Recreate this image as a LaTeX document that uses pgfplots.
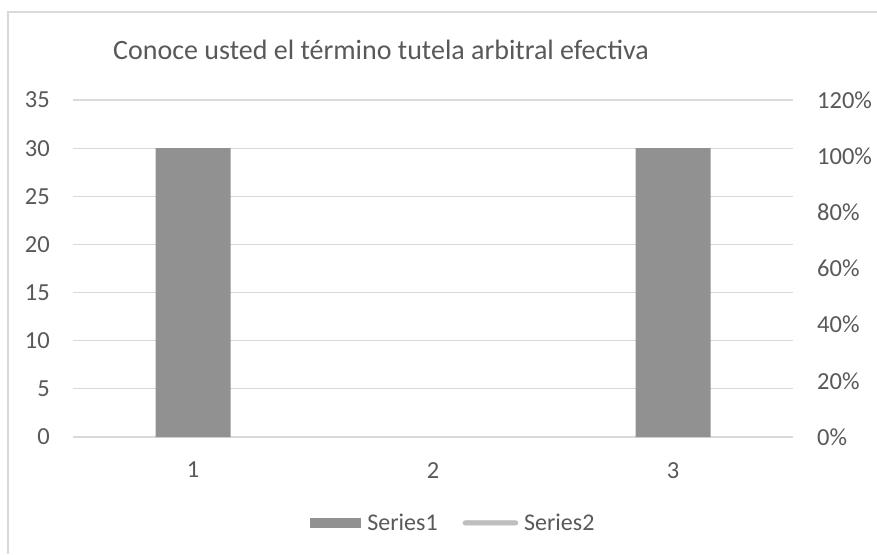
\documentclass[border=0pt]{standalone}
\usepackage{fontspec}
\setmainfont{Carlito}
\usepackage{pgfplots}
\pgfplotsset{compat=1.18}
\definecolor{bargray}{RGB}{145,145,145}
\definecolor{gridgray}{RGB}{217,217,217}
\definecolor{txtgray}{RGB}{89,89,89}
\definecolor{linegray}{RGB}{190,190,190}
\begin{document}
\begin{tikzpicture}[x=1pt,y=1pt]
\useasboundingbox (0,0) rectangle (877,554);
\fill[white] (0,0) rectangle (877,554);
\draw[gridgray, line width=1.2pt] (8,0) -- (8,542) -- (877,542);
\node[anchor=base west, font=\fontsize{28}{34}\selectfont, text=txtgray, inner sep=0pt] at (113,494) {Conoce usted el término tutela arbitral efectiva};
\begin{axis}[
  at={(73pt,117pt)}, anchor=south west,
  width=720pt, height=337pt, scale only axis,
  xmin=0.5, xmax=3.5, ymin=0, ymax=35,
  ytick={0,5,...,35}, xtick={1,2,3},
  ymajorgrids, grid style={gridgray, line width=1.2pt},
  axis line style={draw=none},
  major tick length=0,
  /pgf/number format/assume math mode=true,
  tick label style={font=\fontsize{24.5}{29}\selectfont, text=txtgray, inner sep=0pt},
  yticklabel style={anchor=east, xshift=-23pt},
  xticklabel style={anchor=north, yshift=-25pt},
  ybar, bar width=75pt,
  legend columns=2,
  legend style={draw=none, fill=none, at={(0.527,-0.255)}, anchor=center,
    font=\fontsize{24}{28}\selectfont, text=txtgray,
    nodes={inner xsep=0pt, inner ysep=1pt},
    /tikz/every odd column/.append style={column sep=6pt},
    /tikz/every even column/.append style={column sep=25pt}},
]
\addplot[fill=bargray, draw=none,
  legend image code/.code={\fill[bargray] (0pt,-5pt) rectangle (51pt,5pt);}]
  coordinates {(1,30) (3,30)};
\addlegendentry{Series1}
\addlegendimage{legend image code/.code={\fill[linegray, rounded corners=2.3pt] (0pt,-2.3pt) rectangle (55pt,2.3pt);}}
\addlegendentry{Series2}
\end{axis}
\begin{axis}[
  at={(73pt,117pt)}, anchor=south west,
  width=720pt, height=337pt, scale only axis,
  xmin=0.5, xmax=3.5, ymin=0, ymax=1.2,
  axis x line=none, axis y line*=right,
  axis line style={draw=none},
  major tick length=0,
  ytick={0,0.2,0.4,0.6,0.8,1,1.2},
  yticklabels={0\%,20\%,40\%,60\%,80\%,100\%,120\%},
  tick label style={font=\fontsize{24.5}{29}\selectfont, text=txtgray, inner sep=0pt},
  yticklabel style={anchor=west, xshift=24pt},
]
\end{axis}
\end{tikzpicture}
\end{document}
